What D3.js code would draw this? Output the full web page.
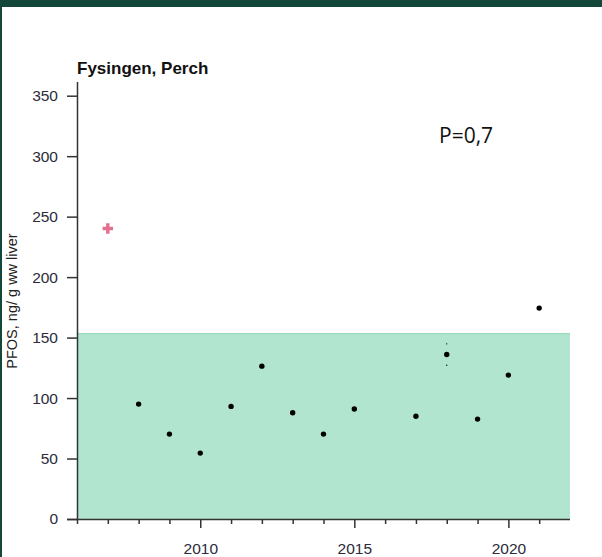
<!DOCTYPE html>
<html><head><meta charset="utf-8">
<script src="https://cdn.jsdelivr.net/npm/d3@7"></script>
<style>body{margin:0;background:#fff}svg{display:block}</style>
</head><body>
<script>
const years = [2008, 2009, 2010, 2011, 2012, 2013, 2014, 2015, 2017, 2018, 2019, 2020, 2021];
const values = [95.0, 70.2, 54.5, 93.1, 126.4, 87.9, 70.2, 90.9, 84.9, 136.0, 82.6, 119.0, 174.4];
const outlierYears = [2007];
const outlierValues = [240.2];
const errYears = [2018];
const errLow = [127.1];
const errHigh = [144.8];
const bandTop = 153.7;
const yTicks = [0, 50, 100, 150, 200, 250, 300, 350];
const xMinorTicks = d3.range(2006, 2022);
const xLabelTicks = [2010, 2015, 2020];
const title = "Fysingen, Perch";
const yLabel = "PFOS, ng/ g ww liver";
const pText = "P=0,7";

const W = 602, H = 557;
const svg = d3.select("body").append("svg").attr("width", W).attr("height", H);
svg.append("rect").attr("x",0).attr("y",0).attr("width",W).attr("height",H).attr("fill","#fff");
// frame
svg.append("rect").attr("x",0).attr("y",0).attr("width",W).attr("height",7).attr("fill","#12473a");
svg.append("rect").attr("x",0).attr("y",0).attr("width",2).attr("height",H).attr("fill","#12473a");

const x = d3.scaleLinear().domain([2006, 2022]).range([77, 570]);
const y = d3.scaleLinear().domain([0, 350]).range([519, 95.7]);

// band
svg.append("rect").attr("x", x(2006)).attr("y", y(bandTop))
  .attr("width", x(2022)-x(2006)).attr("height", y(0)-y(bandTop)).attr("fill","#b2e5cf");
svg.append("line").attr("x1", x(2006)).attr("x2", x(2022)).attr("y1", y(bandTop)+0.5).attr("y2", y(bandTop)+0.5)
  .attr("stroke","#96dcbb").attr("stroke-width",1.2);

const axisCol = "#333";
const fontFam = "'Liberation Sans', Arial, sans-serif";
// y axis
const yAxis = svg.append("g").attr("transform","translate(77,0)")
  .call(d3.axisLeft(y).tickValues(yTicks).tickSize(10).tickPadding(9).tickFormat(d3.format("d")));
yAxis.select(".domain").attr("d", `M0.5,82V${y(0)}`).attr("stroke",axisCol).attr("stroke-width",1.5);
yAxis.selectAll(".tick line").attr("stroke",axisCol).attr("stroke-width",1.5);
yAxis.selectAll(".tick text").attr("fill","#2b2b3a").style("font-family",fontFam).style("font-size","15.5px");

// x axis
const xg = svg.append("g").attr("transform",`translate(0,${y(0)})`);
xg.append("line").attr("x1", x(2006)-10).attr("x2", x(2022)).attr("y1",0.5).attr("y2",0.5).attr("stroke",axisCol).attr("stroke-width",1.5);
const xAxis = xg.append("g").call(d3.axisBottom(x).tickValues(xMinorTicks).tickSize(5).tickFormat(""));
xAxis.select(".domain").remove();
xAxis.selectAll(".tick line").attr("stroke",axisCol).attr("stroke-width",1.5)
  .attr("y2", d => xLabelTicks.includes(d) ? 9 : 5);
const xLab = xg.append("g").call(d3.axisBottom(x).tickValues(xLabelTicks).tickSize(0).tickPadding(24).tickFormat(d3.format("d")));
xLab.select(".domain").remove();
xLab.selectAll(".tick text").attr("fill","#2b2b3a").style("font-family",fontFam).style("font-size","15.5px");

// error dots
errYears.forEach((yr,i) => {
  [errLow[i], errHigh[i]].forEach(v => {
    svg.append("circle").attr("cx", x(yr)).attr("cy", y(v)).attr("r", 0.7).attr("fill","#000");
  });
});
// points
svg.selectAll("circle.pt").data(years.map((d,i)=>({yr:d,v:values[i]}))).enter().append("circle")
  .attr("class","pt").attr("cx", d=>x(d.yr)).attr("cy", d=>y(d.v)).attr("r", 2.7).attr("fill","#000");
// outlier plus
const sym = d3.symbol().type(d3.symbolCross).size(60);
svg.selectAll("path.out").data(outlierYears.map((d,i)=>({yr:d,v:outlierValues[i]}))).enter().append("path")
  .attr("class","out").attr("d", sym).attr("transform", d=>`translate(${x(d.yr)},${y(d.v)})`).attr("fill","#e4708f");

// title
svg.append("text").attr("x",77).attr("y",74).text(title)
  .style("font-family",fontFam).style("font-size","17px").style("font-weight","bold").attr("fill","#111");
// y label
svg.append("text").attr("transform","translate(17,301) rotate(-90)").attr("text-anchor","middle").text(yLabel)
  .style("font-family",fontFam).style("font-size","14.5px").attr("fill","#222");
// P value
svg.append("text").attr("x",439).attr("y",143).text(pText)
  .style("font-family","'Open Sans', sans-serif").style("font-size","21px").attr("fill","#111");
</script>
</body></html>
